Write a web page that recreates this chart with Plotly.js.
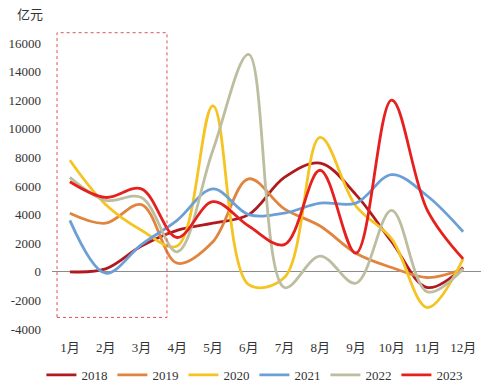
<!DOCTYPE html>
<html>
<head>
<meta charset="utf-8">
<script src="https://cdn.plot.ly/plotly-3.0.1.min.js"></script>
<style>html,body{margin:0;padding:0;background:#fff;}#chart{width:494px;height:387px;}</style>
</head>
<body>
<div id="chart"></div>
<script>
const months = ['1月','2月','3月','4月','5月','6月','7月','8月','9月','10月','11月','12月'];
const seriesNames = ['2018','2019','2020','2021','2022','2023'];
const v2018 = [0, 200, 1800, 2900, 3400, 4000, 6600, 7600, 5400, 2100, -1100, 300];
const v2019 = [4100, 3400, 4700, 600, 2100, 6500, 4400, 3200, 1300, 300, -400, 200];
const v2020 = [7800, 4700, 2900, 1800, 11600, -900, -400, 9400, 4600, 2300, -2500, 900];
const v2021 = [3600, -100, 1900, 3600, 5800, 4000, 4100, 4800, 4800, 6800, 5300, 2800];
const v2022 = [6600, 5000, 5200, 1400, 8500, 15200, -1100, 1100, -800, 4300, -1400, 200];
const v2023 = [6300, 5200, 5800, 2400, 4900, 3200, 1900, 7100, 1300, 12000, 4300, 900];
const yTicks = [-4000, -2000, 0, 2000, 4000, 6000, 8000, 10000, 12000, 14000, 16000];

const allValues = [v2018, v2019, v2020, v2021, v2022, v2023];
const colors = ['#B01A1E', '#E0843E', '#F5C422', '#6B9FD6', '#BDBDA0', '#E5201E'];

const traces = seriesNames.map((name, i) => ({
  type: 'scatter',
  mode: 'lines',
  name: name,
  x: months,
  y: allValues[i],
  line: {color: colors[i], width: 2.8, shape: 'spline', smoothing: 1},
  hoverinfo: 'x+y+name'
}));

const fontFam = "'Times New Roman', 'Liberation Serif', 'DejaVu Serif', 'Noto Sans CJK SC', serif";

const layout = {
  width: 494,
  height: 387,
  margin: {l: 52, r: 13, t: 43, b: 58},
  paper_bgcolor: '#ffffff',
  plot_bgcolor: '#ffffff',
  showlegend: true,
  font: {family: fontFam, size: 13, color: '#333333'},
  xaxis: {
    type: 'category',
    range: [-0.5, 11.5],
    showgrid: false,
    showline: false,
    zeroline: false,
    ticks: '',
    ticklabelstandoff: 9,
    tickfont: {family: fontFam, size: 13, color: '#333333'},
    fixedrange: true
  },
  yaxis: {
    range: [-4000, 16000],
    tickvals: yTicks,
    ticktext: yTicks.map(String),
    showgrid: false,
    showline: false,
    zeroline: true,
    zerolinecolor: '#8c8c8c',
    zerolinewidth: 1,
    ticks: '',
    ticklabelstandoff: 10,
    tickfont: {family: fontFam, size: 13, color: '#333333'},
    fixedrange: true
  },
  legend: {
    orientation: 'h',
    x: 0.515,
    xanchor: 'center',
    xref: 'container',
    y: 0.031,
    yanchor: 'middle',
    yref: 'container',
    font: {family: fontFam, size: 13, color: '#333333'},
    itemwidth: 30,
    tracegroupgap: 0
  },
  annotations: [{
    text: '亿元',
    xref: 'paper', yref: 'paper',
    x: -0.051, y: 1.0, xanchor: 'center', yanchor: 'bottom',
    yshift: 18,
    showarrow: false,
    font: {family: 'Noto Sans CJK SC, sans-serif', size: 13, color: '#333333'}
  }],
  shapes: [{
    type: 'rect',
    xref: 'paper', yref: 'paper',
    x0: 0.0117, x1: 0.268,
    y0: 0.0405, y1: 1.036,
    line: {color: '#E05050', width: 1, dash: 'dot'},
    fillcolor: 'rgba(0,0,0,0)',
    layer: 'above'
  }]
};

Plotly.newPlot('chart', traces, layout, {displayModeBar: false, staticPlot: true});
</script>
</body>
</html>
